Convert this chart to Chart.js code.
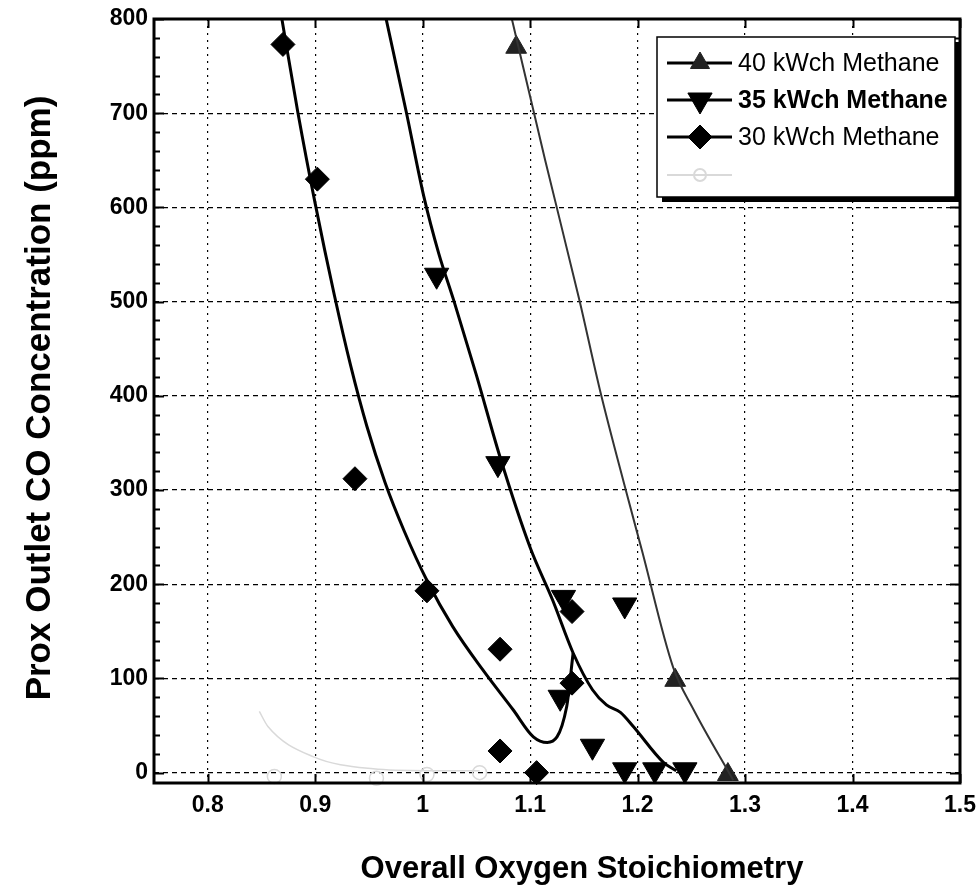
<!DOCTYPE html>
<html>
<head>
<meta charset="utf-8">
<title>Prox outlet CO vs oxygen stoichiometry</title>
<script src="https://cdn.jsdelivr.net/npm/chart.js@4.4.1/dist/chart.umd.min.js"></script>
<style>
  html, body { margin: 0; padding: 0; background: #fff; }
</style>
</head>
<body>
<canvas id="coChart" width="977" height="888"></canvas>
<script>
var seriesNames = ["40 kWch Methane", "35 kWch Methane", "30 kWch Methane"];

// measured points
var pts40X = [1.087, 1.235, 1.284];
var pts40Y = [770, 98, -2];
var pts35X = [1.013, 1.070, 1.131, 1.188, 1.128, 1.158, 1.188, 1.216, 1.244];
var pts35Y = [528, 328, 186, 178, 80, 28, 3, 3, 3];
var pts30X = [0.870, 0.902, 0.937, 1.004, 1.072, 1.072, 1.106, 1.139, 1.139];
var pts30Y = [773, 630, 312, 193, 131, 23, 0, 171, 95];

// model curves
var fit40X = [1.083, 1.114, 1.146, 1.165, 1.189, 1.204, 1.233, 1.252, 1.289];
var fit40Y = [800, 650, 501, 406, 300, 236, 112, 67, -8];
var fit35X = [0.966, 0.985, 1.001, 1.015, 1.029, 1.050, 1.072, 1.100, 1.121, 1.140, 1.158, 1.171, 1.184, 1.196, 1.224, 1.236];
var fit35Y = [800, 700, 612, 551, 501, 422, 335, 239, 183, 127, 88, 72, 64, 49, 11, 2];
var fit30X = [0.869, 0.884, 0.900, 0.918, 0.933, 0.948, 0.965, 0.983, 1.004, 1.028, 1.056, 1.084, 1.103, 1.116, 1.134, 1.140];
var fit30Y = [800, 700, 604, 506, 432, 368, 308, 256, 204, 155, 109, 67, 38, 32, 70, 127];

// washed-out fourth run near the baseline
var faintLineX = [0.848, 0.856, 0.898, 0.954, 1.004, 1.053];
var faintLineY = [65, 49, 17, 4, 2, 2];
var faintPtsX = [0.862, 0.957, 1.004, 1.053];
var faintPtsY = [-4, -6, -2, 0];

var xTicks = [0.8, 0.9, 1.0, 1.1, 1.2, 1.3, 1.4, 1.5];
var yTicks = [0, 100, 200, 300, 400, 500, 600, 700, 800];

function pairs(xs, ys) {
  return xs.map(function (x, i) { return { x: x, y: ys[i] }; });
}

Chart.defaults.font.family = "'Liberation Sans', Arial, sans-serif";
Chart.defaults.color = "#000";

function lineSet(xs, ys, color, width) {
  return {
    data: pairs(xs, ys),
    showLine: true,
    borderColor: color,
    borderWidth: width,
    pointRadius: 0,
    cubicInterpolationMode: "monotone",
    fill: false
  };
}

function markerSet(xs, ys, style, radius, rot, color) {
  return {
    data: pairs(xs, ys),
    showLine: false,
    pointStyle: style,
    pointRadius: radius,
    pointRotation: rot,
    backgroundColor: color,
    borderColor: color,
    borderWidth: 1,
    clip: false
  };
}

var faint = "#d9d9d9";

// frame, inner ticks, axis titles and the boxed legend
var decor = {
  id: "decor",
  afterDatasetsDraw: function (chart) {
    var ctx = chart.ctx, a = chart.chartArea;
    var xs = chart.scales.x, ys = chart.scales.y;
    ctx.save();
    ctx.strokeStyle = "#000";
    ctx.lineWidth = 2;
    ctx.beginPath();
    xTicks.forEach(function (v) {
      var px = Math.round(xs.getPixelForValue(v)) + 0.5;
      ctx.moveTo(px, a.bottom); ctx.lineTo(px, a.bottom - 9);
      ctx.moveTo(px, a.top); ctx.lineTo(px, a.top + 9);
    });
    for (var v = 0; v <= 800; v += 20) {
      var py = Math.round(ys.getPixelForValue(v)) + 0.5;
      var len = v % 100 === 0 ? 10 : 6;
      ctx.moveTo(a.left, py); ctx.lineTo(a.left + len, py);
      ctx.moveTo(a.right, py); ctx.lineTo(a.right - len, py);
    }
    ctx.stroke();
    ctx.lineWidth = 3;
    ctx.strokeRect(a.left, a.top, a.right - a.left, a.bottom - a.top);
    ctx.restore();
  },
  afterDraw: function (chart) {
    var ctx = chart.ctx;
    ctx.save();
    ctx.fillStyle = "#000";
    ctx.textAlign = "center";
    ctx.textBaseline = "middle";
    ctx.font = "bold 31px 'Liberation Sans', Arial, sans-serif";
    ctx.fillText("Overall Oxygen Stoichiometry", 582, 869);
    ctx.translate(40, 398);
    ctx.rotate(-Math.PI / 2);
    ctx.font = "bold 35px 'Liberation Sans', Arial, sans-serif";
    ctx.fillText("Prox Outlet CO Concentration (ppm)", 0, 0);
    ctx.restore();

    // legend box with drop shadow
    var bx = 657, by = 37, bw = 298, bh = 160;
    ctx.save();
    ctx.fillStyle = "#000";
    ctx.fillRect(bx + 5, by + 5, bw, bh);
    ctx.fillStyle = "#fff";
    ctx.fillRect(bx, by, bw, bh);
    ctx.strokeStyle = "#000";
    ctx.lineWidth = 1.5;
    ctx.strokeRect(bx, by, bw, bh);

    var rows = [
      { y: 63, style: "triangle", r: 11, rot: 0, color: "#222", bold: false },
      { y: 100, style: "triangle", r: 14, rot: 180, color: "#000", bold: true },
      { y: 137, style: "rectRot", r: 12, rot: 0, color: "#000", bold: false }
    ];
    rows.forEach(function (row, i) {
      ctx.strokeStyle = "#000";
      ctx.lineWidth = 3;
      ctx.beginPath();
      ctx.moveTo(667, row.y); ctx.lineTo(732, row.y);
      ctx.stroke();
      ctx.fillStyle = row.color;
      ctx.strokeStyle = row.color;
      ctx.lineWidth = 1;
      Chart.helpers.drawPoint(ctx, { pointStyle: row.style, radius: row.r, rotation: row.rot, borderWidth: 1 }, 700, row.y);
      ctx.fillStyle = "#000";
      ctx.textAlign = "left";
      ctx.textBaseline = "middle";
      ctx.font = (row.bold ? "bold " : "") + "25px 'Liberation Sans', Arial, sans-serif";
      ctx.fillText(seriesNames[i], 738, row.y + 1);
    });
    // fourth, faded entry
    ctx.strokeStyle = faint;
    ctx.lineWidth = 2;
    ctx.beginPath();
    ctx.moveTo(667, 175); ctx.lineTo(732, 175);
    ctx.stroke();
    ctx.beginPath();
    ctx.arc(700, 175, 6, 0, Math.PI * 2);
    ctx.stroke();
    ctx.restore();
  }
};

new Chart(document.getElementById("coChart"), {
  type: "scatter",
  data: {
    datasets: [
      lineSet(faintLineX, faintLineY, faint, 1.5),
      {
        data: pairs(faintPtsX, faintPtsY),
        showLine: false,
        pointStyle: "circle",
        pointRadius: 7,
        backgroundColor: "rgba(255,255,255,0)",
        borderColor: faint,
        borderWidth: 1.5,
        clip: false
      },
      lineSet(fit40X, fit40Y, "#333", 2),
      lineSet(fit35X, fit35Y, "#000", 3),
      lineSet(fit30X, fit30Y, "#000", 3),
      markerSet(pts40X, pts40Y, "triangle", 12, 0, "#222"),
      markerSet(pts35X, pts35Y, "triangle", 14, 180, "#000"),
      markerSet(pts30X, pts30Y, "rectRot", 12, 0, "#000")
    ]
  },
  options: {
    responsive: false,
    animation: false,
    devicePixelRatio: 1,
    layout: { padding: { top: 19, right: 17, left: 0, bottom: 0 } },
    plugins: { legend: { display: false }, tooltip: { enabled: false } },
    scales: {
      x: {
        type: "linear",
        min: 0.75,
        max: 1.5,
        afterBuildTicks: function (s) { s.ticks = xTicks.map(function (v) { return { value: v }; }); },
        afterFit: function (s) { s.height = 105; s.paddingLeft = 0; s.paddingRight = 0; },
        ticks: {
          padding: 9,
          font: { size: 23, weight: "bold" },
          callback: function (v) { return String(+(+v).toFixed(1)); }
        },
        grid: { color: "#000", lineWidth: 1.2, drawTicks: false },
        border: { display: false, dash: [2, 5] }
      },
      y: {
        type: "linear",
        min: -11,
        max: 800,
        afterBuildTicks: function (s) { s.ticks = yTicks.map(function (v) { return { value: v }; }); },
        afterFit: function (s) { s.width = 154; s.paddingTop = 0; s.paddingBottom = 0; },
        ticks: {
          padding: 6,
          font: { size: 23, weight: "bold" },
          callback: function (v) { return String(v); }
        },
        grid: { color: "#000", lineWidth: 1.2, drawTicks: false },
        border: { display: false, dash: [5, 4] }
      }
    }
  },
  plugins: [decor]
});
</script>
</body>
</html>
